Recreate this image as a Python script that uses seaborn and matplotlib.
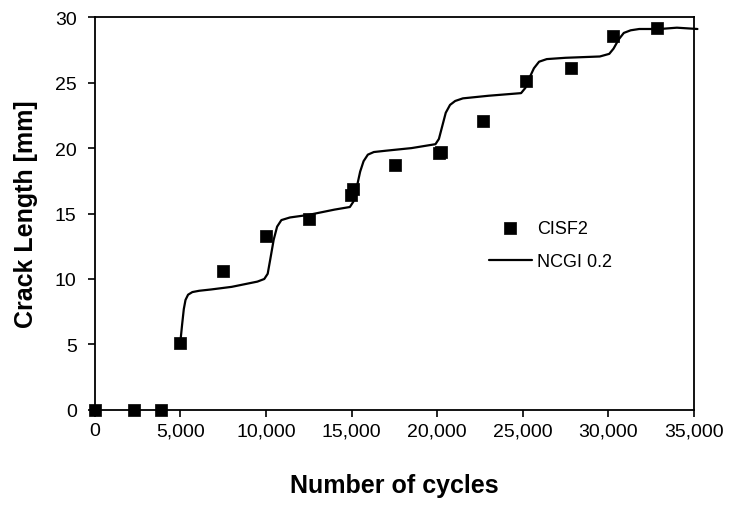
import numpy as np
import pandas as pd
import matplotlib
matplotlib.use("Agg")
import matplotlib.pyplot as plt
import seaborn as sns

# measured points (CISF2)
cycles_meas = [0, 2300, 3850, 4970, 7480, 9980, 12510, 14960, 15060,
               17530, 20120, 20200, 22660, 25190, 27800, 30290, 32830]
crack_meas = [0.0, 0.0, 0.0, 5.1, 10.6, 13.3, 14.6, 16.4, 16.9,
              18.7, 19.6, 19.7, 22.1, 25.1, 26.1, 28.6, 29.2]

# model curve (NCGI 0.2)
cycles_model = [5000, 5100, 5200, 5300, 5450, 5700, 6100, 6800, 8000,
                9500, 9900, 10100, 10250, 10450, 10650, 10900, 11400,
                12500, 14000, 14900, 15100, 15300, 15500, 15700, 15950,
                16300, 17000, 18500, 19900, 20100, 20300, 20500, 20750,
                21050, 21500, 23000, 24900, 25150, 25400, 25650, 25950,
                26400, 27500, 29500, 30050, 30300, 30600, 30900, 31300,
                31800, 33000, 34000, 35200]
crack_model = [5.2, 6.5, 7.7, 8.4, 8.8, 9.0, 9.1, 9.2, 9.4,
               9.8, 10.0, 10.4, 11.5, 13.0, 14.0, 14.5, 14.7,
               14.9, 15.3, 15.5, 15.9, 17.0, 18.2, 19.0, 19.5,
               19.7, 19.8, 20.0, 20.3, 20.7, 21.7, 22.7, 23.3,
               23.6, 23.8, 24.0, 24.2, 24.6, 25.4, 26.1, 26.6,
               26.8, 26.9, 27.0, 27.2, 27.6, 28.3, 28.8, 29.0,
               29.1, 29.1, 29.2, 29.1]

xticks = [0, 5000, 10000, 15000, 20000, 25000, 30000, 35000]
yticks = [0, 5, 10, 15, 20, 25, 30]

sns.set_style("ticks")
plt.rcParams['font.family'] = ['Liberation Sans', 'DejaVu Sans']

fig = plt.figure(figsize=(7.29, 5.06), dpi=100)
ax = fig.add_axes([0.130, 0.188, 0.822, 0.776])

meas = pd.DataFrame({"cycles": cycles_meas, "crack": crack_meas})
model = pd.DataFrame({"cycles": cycles_model, "crack": crack_model})

sns.lineplot(data=model, x="cycles", y="crack", ax=ax, color="black",
             linewidth=1.6, label="NCGI 0.2", sort=False, clip_on=False,
             zorder=2)
sns.scatterplot(data=meas, x="cycles", y="crack", ax=ax, marker="s",
                s=85, color="black", edgecolor="black", linewidth=0.5,
                label="CISF2", clip_on=False, zorder=3)

ax.set_xlim(0, 35000)
ax.set_ylim(0, 30)
ax.set_xticks(xticks)
ax.set_xticklabels([f"{v:,}" for v in xticks])
ax.set_yticks(yticks)
ax.tick_params(labelsize=14, length=5, width=1.2, colors="black",
               labelcolor="black")
ax.tick_params(axis="x", pad=4)
ax.tick_params(axis="y", pad=8)

for s in ax.spines.values():
    s.set_visible(True)
    s.set_linewidth(1.3)
    s.set_color("black")

ax.set_xlabel("Number of cycles", fontsize=18, fontweight="bold",
              labelpad=24, color="black")
ax.set_ylabel("Crack Length [mm]", fontsize=18, fontweight="bold",
              labelpad=12, color="black")

handles, labels = ax.get_legend_handles_labels()
order = [labels.index("CISF2"), labels.index("NCGI 0.2")]
leg = ax.legend([handles[i] for i in order], [labels[i] for i in order],
                loc="center left", bbox_to_anchor=(0.63, 0.42), frameon=False,
                fontsize=13, handlelength=2.4, handletextpad=0.3,
                labelspacing=0.9)
for t in leg.get_texts():
    t.set_color("black")

fig.savefig("out.png", dpi=100)
